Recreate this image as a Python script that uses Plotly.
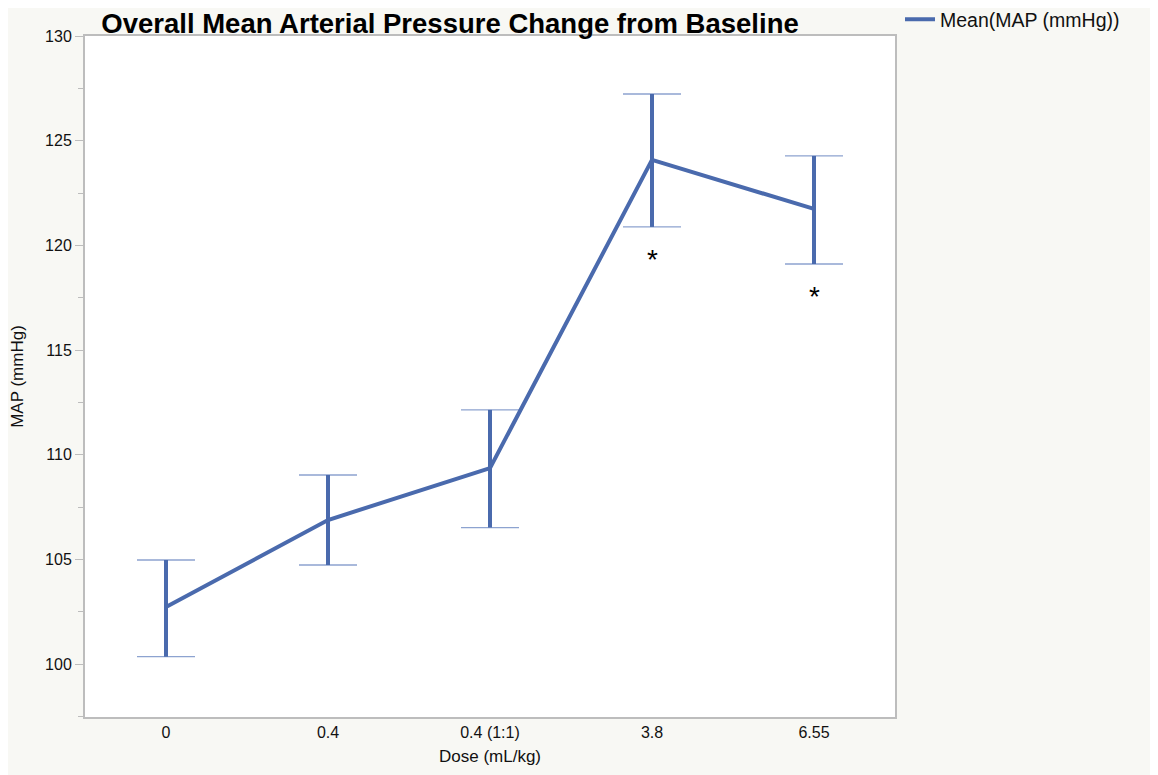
import plotly.graph_objects as go

doses = ["0", "0.4", "0.4 (1:1)", "3.8", "6.55"]
mean_map = [102.72, 106.88, 109.36, 124.08, 121.74]
upper = [104.97, 109.03, 112.14, 127.23, 124.27]
lower = [100.35, 104.73, 106.52, 120.88, 119.11]
sig_doses = ["3.8", "6.55"]
sig_y = [119.5, 117.77]

err_plus = [u - m for u, m in zip(upper, mean_map)]
err_minus = [m - l for m, l in zip(mean_map, lower)]

LINE = "#4a6aad"
CAP = "#8da3d0"

fig = go.Figure()
# thin caps
fig.add_trace(go.Scatter(
    x=doses, y=mean_map, mode="markers", marker=dict(size=0.1, color="rgba(0,0,0,0)"),
    error_y=dict(type="data", symmetric=False, array=err_plus, arrayminus=err_minus,
                 color=CAP, thickness=1.3, width=29),
    showlegend=False, hoverinfo="skip"))
# thick stems
fig.add_trace(go.Scatter(
    x=doses, y=mean_map, mode="markers", marker=dict(size=0.1, color="rgba(0,0,0,0)"),
    error_y=dict(type="data", symmetric=False, array=err_plus, arrayminus=err_minus,
                 color=LINE, thickness=4, width=0),
    showlegend=False, hoverinfo="skip"))
fig.add_trace(go.Scatter(
    x=doses, y=mean_map, mode="lines", line=dict(color=LINE, width=4),
    name="Mean(MAP (mmHg))"))

for d, v in zip(sig_doses, sig_y):
    fig.add_annotation(x=doses.index(d), y=v, text="*", showarrow=False, yshift=-4,
                       font=dict(size=28, color="black"), xref="x", yref="y")

fig.update_layout(
    width=1158, height=775,
    margin=dict(l=77, r=271, t=28, b=66, autoexpand=False),
    paper_bgcolor="#f8f8f4", plot_bgcolor="white",
    font=dict(family="Liberation Sans, Arial, sans-serif", size=16, color="#111"),
    title=dict(text="<b>Overall Mean Arterial Pressure Change from Baseline</b>",
               x=0.3817, xanchor="center", y=0.9806, yanchor="middle",
               font=dict(size=27.5, color="black")),
    showlegend=True,
    legend=dict(xref="container", yref="container", x=0.7703, y=0.985,
                xanchor="left", yanchor="middle",
                bgcolor="rgba(0,0,0,0)", font=dict(size=19.5, color="#111"),
                itemwidth=30, tracegroupgap=0),
    xaxis=dict(type="category", range=[-0.5, 4.5], showgrid=False, automargin=False,
               showline=True, linecolor="#bdbdbd", linewidth=2, mirror=True,
               ticks="", tickfont=dict(size=16),
               title=dict(text="Dose (mL/kg)", font=dict(size=17), standoff=10)),
    yaxis=dict(range=[97.47, 130], tickvals=[100, 105, 110, 115, 120, 125, 130],
               showgrid=False, zeroline=False, automargin=False,
               showline=True, linecolor="#bdbdbd", linewidth=2, mirror=True,
               ticks="outside", ticklen=8, tickcolor="#bdbdbd", tickwidth=1,
               tickfont=dict(size=16),
               minor=dict(dtick=2.5, tick0=0, ticks="outside", ticklen=5,
                          tickcolor="#bdbdbd", showgrid=False),
               title=dict(text="MAP (mmHg)", font=dict(size=17), standoff=18)),
)

fig.write_html("out.html")
